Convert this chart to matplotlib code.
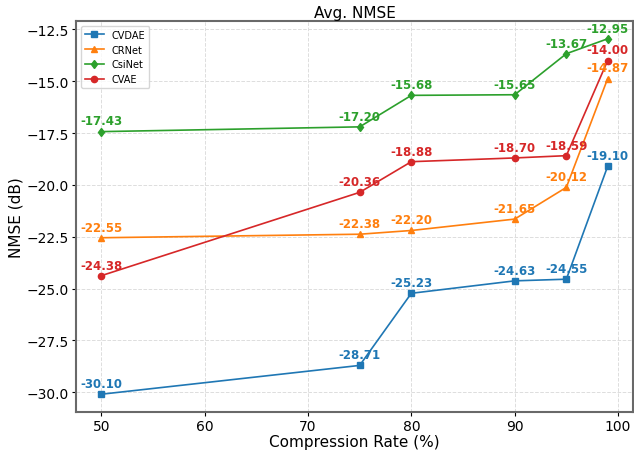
import numpy as np
import matplotlib.pyplot as plt

compression_rate = [50, 75, 80, 90, 95, 99]

cvdae = [-30.10, -28.71, -25.23, -24.63, -24.55, -19.10]
crnet = [-22.55, -22.38, -22.20, -21.65, -20.12, -14.87]
csinet = [-17.43, -17.20, -15.68, -15.65, -13.67, -12.95]
cvae = [-24.38, -20.36, -18.88, -18.70, -18.59, -14.00]

series = [
    ("CVDAE", cvdae, "s", "tab:blue"),
    ("CRNet", crnet, "^", "tab:orange"),
    ("CsiNet", csinet, "d", "tab:green"),
    ("CVAE", cvae, "o", "tab:red"),
]

fig, ax = plt.subplots(figsize=(6.34, 4.56), dpi=100)

for name, values, marker, color in series:
    ax.plot(compression_rate, values, marker=marker, color=color, label=name,
            linewidth=1.2, markersize=4.5)
    for x, y in zip(compression_rate, values):
        ax.annotate("{:.2f}".format(y), (x, y), xytext=(0, 3),
                    textcoords="offset points", ha="center", va="bottom",
                    fontsize=8.5, fontweight="bold", color=color)

ax.set_title("Avg. NMSE", fontsize=11, pad=3)
ax.set_xlabel("Compression Rate (%)", fontsize=11, labelpad=1)
ax.set_ylabel("NMSE (dB)", fontsize=11, labelpad=2)
ax.tick_params(labelsize=10, length=3, pad=2)
ax.grid(True, linestyle="--", color="#dddddd", linewidth=0.7)
for spine in ax.spines.values():
    spine.set_color("dimgray")
    spine.set_linewidth(1.5)
ax.legend(loc="upper left", fontsize=7)

fig.subplots_adjust(left=76 / 634, right=633 / 634, top=1 - 22 / 456, bottom=1 - 413 / 456)
plt.savefig("out.png")
